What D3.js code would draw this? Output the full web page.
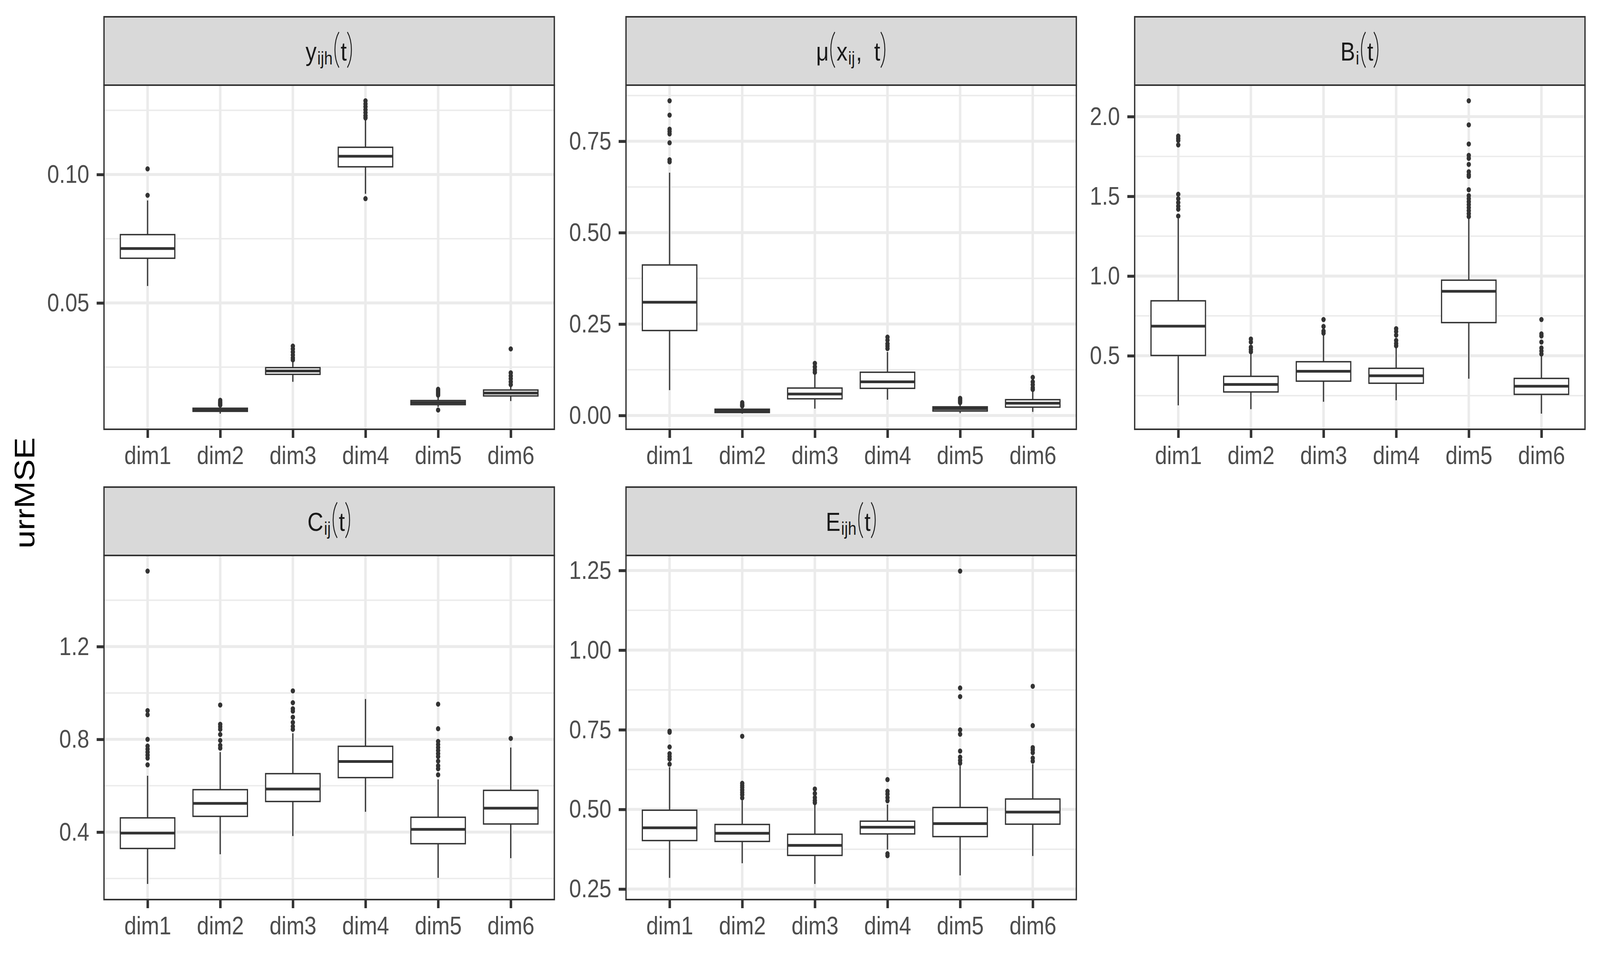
<!DOCTYPE html>
<html>
<head>
<meta charset="utf-8">
<script src="https://cdn.jsdelivr.net/npm/d3@7"></script>
<style>
html, body { margin: 0; padding: 0; background: #fff; overflow: hidden; }
svg { display: block; }
text { font-family: "Liberation Sans", Arimo, Helvetica, Arial, sans-serif; }
</style>
</head>
<body>
<svg id="chart" viewBox="0 0 4800 2450" preserveAspectRatio="none"></svg>
<script>
var dims = ["dim1", "dim2", "dim3", "dim4", "dim5", "dim6"];

// strip labels: [text, kind] with m = main, s = subscript, p = parenthesis
var yijhLabel = [["y", "m"], ["ijh", "s"], ["(", "p"], ["t", "m"], [")", "p"]];
var muLabel = [["\u03bc", "m"], ["(", "p"], ["x", "m"], ["ij", "s"], [",", "m", 34], ["t", "m"], [")", "p"]];
var bLabel = [["B", "m"], ["i", "s"], ["(", "p"], ["t", "m"], [")", "p"]];
var cLabel = [["C", "m"], ["ij", "s"], ["(", "p"], ["t", "m"], [")", "p"]];
var eLabel = [["E", "m"], ["ijh", "s"], ["(", "p"], ["t", "m"], [")", "p"]];

// box stats per dim: [lower whisker, q1, median, q3, upper whisker]
var yijhBoxes = [
	[0.0566, 0.0674, 0.0712, 0.0766, 0.0899],
	[0.0069, 0.0078, 0.0083, 0.0090, 0.0098],
	[0.0193, 0.0222, 0.0235, 0.0248, 0.0269],
	[0.0925, 0.1030, 0.1071, 0.1106, 0.1212],
	[0.0095, 0.0104, 0.0112, 0.0120, 0.0135],
	[0.0118, 0.0138, 0.0149, 0.0161, 0.0178]
];
var yijhOutliers = [
	[0.1022, 0.0919],
	[0.0121, 0.0115, 0.0110, 0.0106, 0.0102],
	[0.0332, 0.0321, 0.0309, 0.0297, 0.0286, 0.0278],
	[0.1287, 0.1275, 0.1264, 0.1252, 0.1241, 0.1229, 0.1220, 0.0906],
	[0.0164, 0.0158, 0.0152, 0.0146, 0.0141, 0.0083],
	[0.0321, 0.0228, 0.0216, 0.0205, 0.0193, 0.0182]
];
var yijhTicks = [0.05, 0.10];

var muBoxes = [
	[0.0693, 0.2323, 0.3097, 0.4116, 0.6640],
	[0.0050, 0.0081, 0.0122, 0.0171, 0.0228],
	[0.0187, 0.0456, 0.0587, 0.0750, 0.1165],
	[0.0432, 0.0742, 0.0921, 0.1182, 0.1736],
	[0.0065, 0.0122, 0.0187, 0.0236, 0.0310],
	[0.0098, 0.0228, 0.0334, 0.0432, 0.0676]
];
var muOutliers = [
	[0.8606, 0.8215, 0.7830, 0.7767, 0.7700, 0.7457, 0.6993, 0.6936],
	[0.035, 0.031, 0.028, 0.026],
	[0.1426, 0.1330, 0.1247, 0.1180],
	[0.2143, 0.2060, 0.1960, 0.1900, 0.1830],
	[0.047, 0.043, 0.039, 0.035],
	[0.1043, 0.0920, 0.0840, 0.0758, 0.0710]
];
var muTicks = [0.00, 0.25, 0.50, 0.75];

var bBoxes = [
	[0.189, 0.5019, 0.6854, 0.8446, 1.360],
	[0.165, 0.273, 0.320, 0.371, 0.510],
	[0.2116, 0.3408, 0.4026, 0.4625, 0.629],
	[0.221, 0.3277, 0.3745, 0.4213, 0.558],
	[0.356, 0.708, 0.9045, 0.974, 1.363],
	[0.137, 0.258, 0.309, 0.358, 0.502]
];
var bOutliers = [
	[1.878, 1.863, 1.850, 1.822, 1.513, 1.485, 1.461, 1.438, 1.419, 1.376],
	[0.605, 0.586, 0.554, 0.539, 0.525],
	[0.727, 0.6835, 0.655, 0.642],
	[0.670, 0.652, 0.629, 0.596, 0.577, 0.562],
	[2.099, 1.948, 1.828, 1.757, 1.738, 1.700, 1.654, 1.635, 1.625, 1.541, 1.504, 1.485, 1.466, 1.448, 1.429, 1.410, 1.391, 1.373],
	[0.727, 0.637, 0.624, 0.586, 0.549, 0.530, 0.511]
];
var bTicks = [0.5, 1.0, 1.5, 2.0];

var cBoxes = [
	[0.1765, 0.3294, 0.396, 0.4614, 0.643],
	[0.3046, 0.468, 0.524, 0.583, 0.745],
	[0.383, 0.532, 0.5856, 0.652, 0.826],
	[0.4876, 0.635, 0.7046, 0.770, 0.9739],
	[0.2026, 0.350, 0.412, 0.464, 0.627],
	[0.2876, 0.435, 0.503, 0.580, 0.7647]
];
var cOutliers = [
	[1.5255, 0.924, 0.906, 0.800, 0.771, 0.758, 0.745, 0.732, 0.719, 0.690],
	[0.948, 0.865, 0.854, 0.843, 0.821, 0.795, 0.774, 0.762],
	[1.009, 0.958, 0.932, 0.9216, 0.8954, 0.873, 0.856, 0.843],
	[],
	[0.9516, 0.8458, 0.791, 0.778, 0.765, 0.752, 0.7386, 0.7255, 0.706, 0.686, 0.673, 0.647],
	[0.804]
];
var cTicks = [0.4, 0.8, 1.2];

var eBoxes = [
	[0.285, 0.4022, 0.4422, 0.4974, 0.6325],
	[0.331, 0.3994, 0.425, 0.4527, 0.528],
	[0.266, 0.3556, 0.387, 0.422, 0.518],
	[0.3737, 0.423, 0.444, 0.463, 0.5155],
	[0.2928, 0.4146, 0.4555, 0.506, 0.637],
	[0.3537, 0.4536, 0.4917, 0.5326, 0.642]
];
var eOutliers = [
	[0.7457, 0.742, 0.696, 0.675, 0.666, 0.658, 0.642],
	[0.7295, 0.582, 0.575, 0.569, 0.561, 0.5535, 0.546, 0.536],
	[0.564, 0.550, 0.537, 0.528, 0.521],
	[0.5935, 0.557, 0.548, 0.537, 0.527, 0.361, 0.3547],
	[1.248, 0.881, 0.854, 0.7495, 0.736, 0.683, 0.664, 0.654, 0.645],
	[0.8865, 0.763, 0.694, 0.687, 0.678, 0.661, 0.6515]
];
var eTicks = [0.25, 0.50, 0.75, 1.00, 1.25];

var panelLeft = [312, 1878, 3404];
var panelTop = [218, 1422];

var panels = [
	{label: yijhLabel, boxes: yijhBoxes, outliers: yijhOutliers, ticks: yijhTicks, fmt: ".2f"},
	{label: muLabel, boxes: muBoxes, outliers: muOutliers, ticks: muTicks, fmt: ".2f"},
	{label: bLabel, boxes: bBoxes, outliers: bOutliers, ticks: bTicks, fmt: ".1f"},
	{label: cLabel, boxes: cBoxes, outliers: cOutliers, ticks: cTicks, fmt: ".1f"},
	{label: eLabel, boxes: eBoxes, outliers: eOutliers, ticks: eTicks, fmt: ".2f"}
];

var boxpanel = function(){

	var width;
	var height;
	var strip;
	var ink = "#333333";
	var grid = "#ebebeb";

	function chart(selection){
		selection.each(function(d){
			var g = d3.select(this);

			var ext = d3.extent(d3.merge(d.boxes.concat(d.outliers)));
			var pad = (ext[1] - ext[0]) * 0.05;
			var y = d3.scaleLinear()
				.domain([ext[0] - pad, ext[1] + pad])
				.range([height, 0]);
			var x = d3.scalePoint()
				.domain(dims)
				.range([0, width])
				.padding(0.6);
			var bw = x.step() * 0.75;

			var step = d.ticks[1] - d.ticks[0];
			var minor = d3.range(d.ticks[0] - step / 2, y.domain()[1], step)
				.filter(function(v){ return v >= y.domain()[0]; });

			g.append("rect")
				.attr("width", width)
				.attr("height", height)
				.attr("fill", "#fff");

			g.selectAll(".minor")
				.data(minor)
				.enter().append("line")
				.attr("class", "minor")
				.attr("x1", 0).attr("x2", width)
				.attr("y1", y).attr("y2", y)
				.attr("stroke", grid)
				.attr("stroke-width", 3.7);

			g.selectAll(".major")
				.data(d.ticks)
				.enter().append("line")
				.attr("class", "major")
				.attr("x1", 0).attr("x2", width)
				.attr("y1", y).attr("y2", y)
				.attr("stroke", grid)
				.attr("stroke-width", 7.5);

			g.selectAll(".vgrid")
				.data(dims)
				.enter().append("line")
				.attr("class", "vgrid")
				.attr("x1", x).attr("x2", x)
				.attr("y1", 0).attr("y2", height)
				.attr("stroke", grid)
				.attr("stroke-width", 7.5);

			var boxes = g.selectAll(".box")
				.data(d.boxes)
				.enter().append("g")
				.attr("class", "box")
				.attr("transform", function(b, i){ return "translate(" + x(dims[i]) + ",0)"; });

			boxes.append("line")
				.attr("y1", function(b){ return y(b[0]); })
				.attr("y2", function(b){ return y(b[1]); })
				.attr("stroke", ink).attr("stroke-width", 3.6);
			boxes.append("line")
				.attr("y1", function(b){ return y(b[3]); })
				.attr("y2", function(b){ return y(b[4]); })
				.attr("stroke", ink).attr("stroke-width", 3.6);
			boxes.append("rect")
				.attr("x", -bw / 2)
				.attr("width", bw)
				.attr("y", function(b){ return y(b[3]); })
				.attr("height", function(b){ return y(b[1]) - y(b[3]); })
				.attr("fill", "#fff")
				.attr("stroke", ink).attr("stroke-width", 3.6);
			boxes.append("line")
				.attr("x1", -bw / 2).attr("x2", bw / 2)
				.attr("y1", function(b){ return y(b[2]); })
				.attr("y2", function(b){ return y(b[2]); })
				.attr("stroke", ink).attr("stroke-width", 7);

			boxes.each(function(b, i){
				d3.select(this).selectAll("circle")
					.data(d.outliers[i])
					.enter().append("circle")
					.attr("cy", y)
					.attr("r", 6.5)
					.attr("fill", ink);
			});

			g.append("rect")
				.attr("width", width)
				.attr("height", height)
				.attr("fill", "none")
				.attr("stroke", ink)
				.attr("stroke-width", 4);

			var ay = g.append("g")
				.call(d3.axisLeft(y).tickValues(d.ticks).tickFormat(d3.format(d.fmt)).tickSize(22).tickPadding(22));
			var ax = g.append("g")
				.attr("transform", "translate(0," + height + ")")
				.call(d3.axisBottom(x).tickSize(22).tickPadding(21));
			[ay, ax].forEach(function(a){
				a.select(".domain").remove();
				a.selectAll(".tick line").attr("stroke", ink).attr("stroke-width", 7.5);
				a.selectAll(".tick text")
					.attr("fill", "#4d4d4d")
					.attr("font-size", 65)
					.attr("font-family", "'Liberation Sans', Arimo, Helvetica, Arial, sans-serif");
			});

			g.append("rect")
				.attr("y", -strip)
				.attr("width", width)
				.attr("height", strip)
				.attr("fill", "#d9d9d9")
				.attr("stroke", ink)
				.attr("stroke-width", 4);

			var lab = g.append("g");
			var w = stripLabel(lab, d.label);
			lab.attr("transform", "translate(" + (width / 2 - w / 2) + "," + (112 - strip) + ")");
		});
	}

	function stripLabel(g, pieces){
		var cx = 0;
		pieces.forEach(function(p){
			if(p[1] === "p"){
				var pw = 16, top = -73, bot = 18;
				var path = p[0] === "("
					? "M" + (cx + pw) + "," + top + "C" + cx + "," + (top + 24) + " " + cx + "," + (bot - 24) + " " + (cx + pw) + "," + bot
					: "M" + cx + "," + top + "C" + (cx + pw) + "," + (top + 24) + " " + (cx + pw) + "," + (bot - 24) + " " + cx + "," + bot;
				g.append("path")
					.attr("d", path)
					.attr("fill", "none")
					.attr("stroke", "#1a1a1a")
					.attr("stroke-width", 2.8);
				cx += pw + 5;
			} else {
				var sub = p[1] === "s";
				var t = g.append("text")
					.attr("x", cx)
					.attr("y", sub ? 10 : 0)
					.attr("font-size", sub ? 46 : 66)
					.attr("fill", "#1a1a1a")
					.text(p[0]);
				cx += t.node().getComputedTextLength() + (sub ? 3 : 2) + (p[2] || 0);
			}
		});
		return cx - 5;
	}

	chart.width = function(value){
		if(!arguments.length) return width;
		width = value;
		return this;
	};

	chart.height = function(value){
		if(!arguments.length) return height;
		height = value;
		return this;
	};

	chart.strip = function(value){
		if(!arguments.length) return strip;
		strip = value;
		return this;
	};

	return chart;
};

// the window may be narrower than 4800, so the 4800x2450 drawing is fitted to it
var svg = d3.select("#chart")
	.attr("width", window.innerWidth || 4800)
	.attr("height", window.innerHeight || 2450);

svg.append("rect")
	.attr("width", 4800)
	.attr("height", 2450)
	.attr("fill", "#fff");

var panel = boxpanel().width(1351).height(881).strip(175);

svg.selectAll(".panel")
	.data(panels)
	.enter().append("g")
	.attr("class", "panel")
	.attr("transform", function(d, i){
		return "translate(" + panelLeft[i % 3] + "," + panelTop[Math.floor(i / 3)] + ")";
	})
	.call(panel);

svg.append("text")
	.attr("transform", "translate(103,1262) rotate(-90)")
	.attr("text-anchor", "middle")
	.attr("font-size", 84)
	.attr("fill", "#000")
	.text("urrMSE");
</script>
</body>
</html>
